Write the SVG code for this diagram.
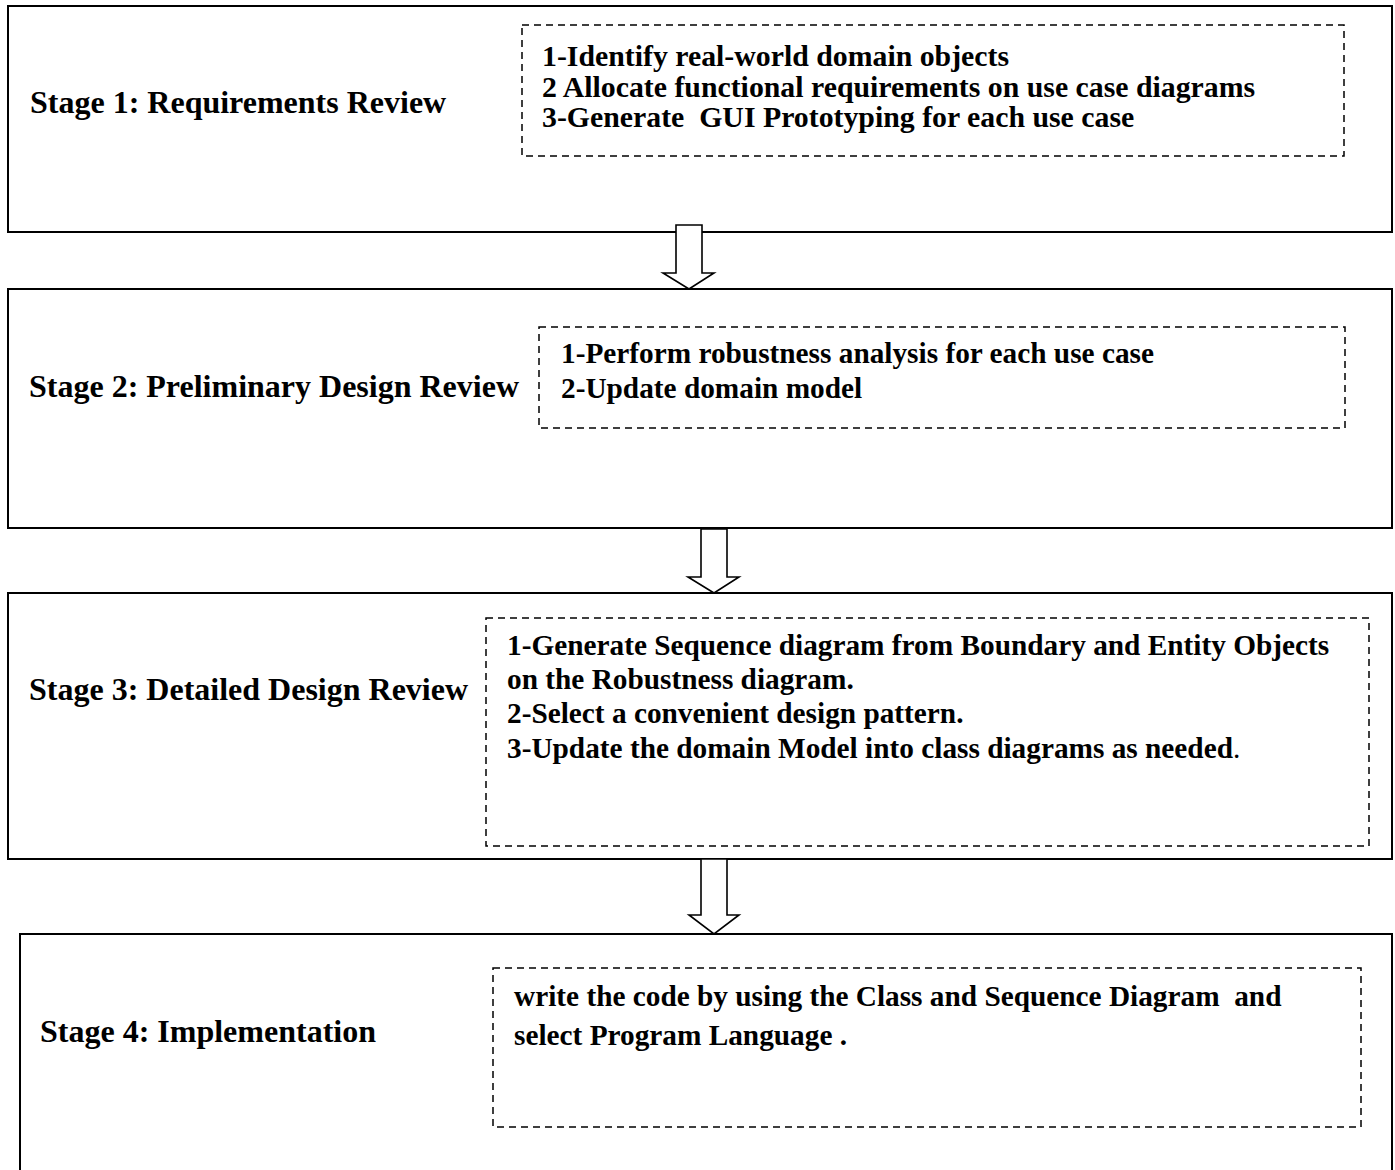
<svg xmlns="http://www.w3.org/2000/svg" width="1395" height="1170" viewBox="0 0 1395 1170">
<style>
.stage{fill:#fff;stroke:#000;stroke-width:2}
.dash{fill:none;stroke:#000;stroke-width:1.5;stroke-dasharray:7 5}
.arrow{fill:#fff;stroke:#000;stroke-width:1.6;stroke-linejoin:miter}
text{font-family:"Liberation Serif","Times New Roman",serif;font-weight:bold;fill:#000;white-space:pre}
.lbl{font-size:32px}
.item{font-size:29.3px}
.item1{font-size:29.8px}
</style>
<rect width="1395" height="1170" fill="#fff"/>
<g id="stage1">
<rect class="stage" x="8" y="6" width="1384" height="226"/>
<text class="lbl" x="30" y="113">Stage 1: Requirements Review</text>
<rect class="dash" x="522" y="25" width="822" height="131"/>
<text class="item1" x="542" y="66">1-Identify real-world domain objects</text>
<text class="item1" x="542" y="97">2 Allocate functional requirements on use case diagrams</text>
<text class="item1" x="542" y="127">3-Generate  GUI Prototyping for each use case</text>
</g>
<g id="stage2">
<rect class="stage" x="8" y="289" width="1384" height="239"/>
<text class="lbl" x="29" y="397">Stage 2: Preliminary Design Review</text>
<rect class="dash" x="539" y="327" width="806" height="101"/>
<text class="item" x="561" y="363">1-Perform robustness analysis for each use case</text>
<text class="item" x="561" y="398">2-Update domain model</text>
</g>
<g id="stage3">
<rect class="stage" x="8" y="593" width="1384" height="266"/>
<text class="lbl" x="29" y="700">Stage 3: Detailed Design Review</text>
<rect class="dash" x="486" y="618" width="883" height="228"/>
<text class="item" x="507" y="655">1-Generate Sequence diagram from Boundary and Entity Objects</text>
<text class="item" x="507" y="689">on the Robustness diagram.</text>
<text class="item" x="507" y="723">2-Select a convenient design pattern.</text>
<text class="item" x="507" y="758">3-Update the domain Model into class diagrams as needed<tspan font-weight="normal">.</tspan></text>
</g>
<g id="stage4">
<rect class="stage" x="20" y="934" width="1372" height="260"/>
<text class="lbl" x="40" y="1042">Stage 4: Implementation</text>
<rect class="dash" x="493" y="968" width="868" height="159"/>
<text class="item" x="514" y="1006">write the code by using the Class and Sequence Diagram  and</text>
<text class="item" x="514" y="1045">select Program Language .</text>
</g>
<g id="connectors">
<path class="arrow" d="M676,225 H702 V273 H714 L689,289 L663,273 H676 Z"/>
<path class="arrow" d="M701,529 H727 V577 H739 L714,593 L688,577 H701 Z"/>
<path class="arrow" d="M701,859 H727 V915 H739 L714,934 L689,915 H701 Z"/>
</g>
</svg>
